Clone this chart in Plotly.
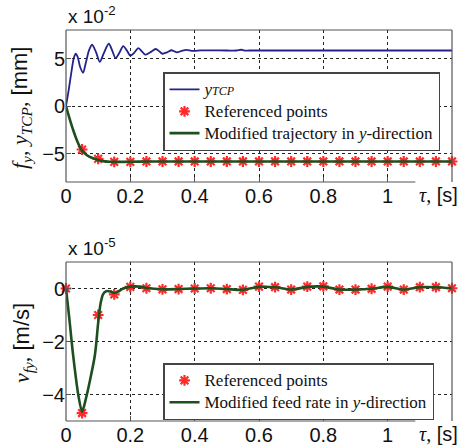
import plotly.graph_objects as go
from plotly.subplots import make_subplots

# ---- upper panel: tool-centre-point response and modified trajectory (x 1e-2 mm)
t_tcp = [0, 0.008, 0.016, 0.024, 0.03, 0.036, 0.044, 0.053, 0.062, 0.072, 0.081,
         0.093, 0.105, 0.118, 0.133, 0.144, 0.154, 0.166, 0.178, 0.19, 0.2, 0.212,
         0.225, 0.236, 0.246, 0.262, 0.279, 0.29, 0.3, 0.314, 0.328, 0.337, 0.345,
         0.36, 0.375, 0.39, 0.4, 0.42, 0.45, 0.5, 0.53, 0.545, 0.555, 0.57, 0.6,
         0.8, 1.0, 1.2]
y_tcp = [0, 1.6, 3.4, 5.0, 5.5, 5.2, 4.1, 3.5, 4.6, 5.9, 6.45,
         5.7, 4.65, 5.6, 6.55, 5.8, 5.05, 5.6, 6.3, 5.8, 5.3, 5.6,
         6.1, 5.75, 5.4, 5.65, 6.0, 5.75, 5.5, 5.65, 5.87, 5.75, 5.65,
         5.8, 5.9, 5.8, 5.8, 5.85, 5.85, 5.84, 5.84, 5.92, 5.84, 5.84, 5.84,
         5.84, 5.84, 5.84]

t_traj = [0, 0.01, 0.022, 0.035, 0.048, 0.064, 0.084, 0.1, 0.115, 0.135, 0.15,
          0.2, 0.25, 0.3, 0.6, 0.9, 1.2]
f_traj = [0, -1.2, -2.5, -3.7, -4.6, -5.15, -5.5, -5.68, -5.8, -5.87, -5.88,
          -5.87, -5.84, -5.84, -5.84, -5.84, -5.84]

t_ref_top = [0.05, 0.1, 0.15, 0.2, 0.25, 0.3, 0.35, 0.4, 0.45, 0.5, 0.55, 0.6,
             0.65, 0.7, 0.75, 0.8, 0.85, 0.9, 0.95, 1.0, 1.05, 1.1, 1.15, 1.2]
f_ref_top = [-4.58, -5.57, -5.88, -5.88, -5.84, -5.84, -5.84, -5.84, -5.84, -5.84,
             -5.84, -5.84, -5.84, -5.84, -5.84, -5.84, -5.84, -5.84, -5.84, -5.84,
             -5.84, -5.84, -5.84, -5.84]

# ---- lower panel: modified feed rate (x 1e-5 m/s)
t_feed = [0, 0.01, 0.022, 0.038, 0.05, 0.062, 0.074, 0.09, 0.1, 0.107, 0.115,
          0.125, 0.14, 0.15, 0.162, 0.176, 0.2, 0.23, 0.25, 0.3, 0.35, 0.4, 0.45,
          0.5, 0.55, 0.6, 0.65, 0.7, 0.75, 0.8, 0.85, 0.9, 0.95, 1.0, 1.05, 1.1,
          1.15, 1.2]
v_feed = [0, -1.1, -2.5, -4.0, -4.65, -4.15, -3.5, -2.5, -1.3, -0.6, -0.22,
          -0.1, -0.12, -0.17, -0.12, -0.01, 0.07, 0.07, 0.02, -0.03, -0.02, 0.0, 0.01,
          -0.02, -0.05, 0.06, 0.05, -0.04, 0.06, 0.07, -0.04, -0.04, -0.01, 0.06, -0.04, 0.05,
          0.05, 0.01]

t_ref_bot = [0, 0.05, 0.1, 0.15, 0.2, 0.25, 0.3, 0.35, 0.4, 0.45, 0.5, 0.55, 0.6,
             0.65, 0.7, 0.75, 0.8, 0.85, 0.9, 0.95, 1.0, 1.05, 1.1, 1.15, 1.2]
v_ref_bot = [0, -4.7, -1.0, -0.22, 0.06, 0.01, -0.03, -0.02, 0.0, 0.01, -0.02, -0.05,
             0.07, 0.05, -0.04, 0.07, 0.08, -0.04, -0.04, -0.01, 0.07, -0.04, 0.05,
             0.05, 0.01]

x_ticks = [0, 0.2, 0.4, 0.6, 0.8, 1]
x_tick_text = ["0", "0.2", "0.4", "0.6", "0.8", "1"]
y_ticks_top = [-5, 0, 5]
y_ticks_bot = [-4, -2, 0]

BLUE = "#23238c"
GREEN = "#1e4f1e"
RED = "#ff2a2a"
INK = "#111111"
SANS = "Liberation Sans, Arial, sans-serif"
SERIF = "Liberation Serif, Times New Roman, serif"

W, H = 467, 448
ML, MR, MT, MB = 66, 15, 30, 27
PW = W - ML - MR
PH = H - MT - MB


def entry(label):
    # legend entries drawn a little larger than the legend's base font
    return f"<span style='font-size:17px'>{label}</span>"


fig = make_subplots(rows=2, cols=1, vertical_spacing=0.0)

marker_style = dict(symbol="asterisk-open", size=9, color=RED,
                    line=dict(color=RED, width=2.2))

fig.add_trace(go.Scatter(x=t_tcp, y=y_tcp, mode="lines",
                         line=dict(color=BLUE, width=1.8, shape="spline", smoothing=0.8),
                         name=entry("<i>y</i>") + "<i><span style='font-size:12px'>TCP</span></i>",
                         legend="legend"),
              row=1, col=1)
fig.add_trace(go.Scatter(x=t_ref_top, y=f_ref_top, mode="markers", marker=marker_style,
                         cliponaxis=False, name=entry("Referenced points"), legend="legend"),
              row=1, col=1)
fig.add_trace(go.Scatter(x=t_traj, y=f_traj, mode="lines",
                         line=dict(color=GREEN, width=2.6, shape="spline", smoothing=0.8),
                         name=entry("Modified trajectory in <i>y</i>-direction"),
                         legend="legend"),
              row=1, col=1)

fig.add_trace(go.Scatter(x=t_ref_bot, y=v_ref_bot, mode="markers", marker=marker_style,
                         cliponaxis=False, name=entry("Referenced points"), legend="legend2"),
              row=2, col=1)
fig.add_trace(go.Scatter(x=t_feed, y=v_feed, mode="lines",
                         line=dict(color=GREEN, width=2.6, shape="spline", smoothing=0.8),
                         name=entry("Modified feed rate in <i>y</i>-direction"),
                         legend="legend2"),
              row=2, col=1)

# panel domains in paper fractions
top_dom = [(421 - 182) / PH, 1.0]
bot_dom = [0.0, (421 - 262) / PH]

axis_common = dict(showline=False, zeroline=False, showgrid=True, automargin=False,
                   gridcolor="#222222", griddash="dot", gridwidth=1,
                   ticks="inside", ticklen=5, tickcolor="#555555",
                   tickfont=dict(family=SANS, size=20, color=INK))

fig.update_xaxes(range=[0, 1.2], tickvals=x_ticks, ticktext=x_tick_text,
                 ticklabelstandoff=0, **axis_common)
fig.update_yaxes(**axis_common)
fig.update_yaxes(range=[-8, 8], tickvals=y_ticks_top, domain=top_dom, row=1, col=1)
fig.update_yaxes(range=[-5, 1], tickvals=y_ticks_bot, domain=bot_dom, row=2, col=1)
fig.update_xaxes(showticklabels=True, row=1, col=1)

# axes frames: left, top, right full; bottom stops short of the τ label
shapes = []
for xa, ya in (("x domain", "y domain"), ("x2 domain", "y2 domain")):
    frame = dict(type="line", xref=xa, yref=ya, line=dict(color="#555555", width=1.2))
    shapes.append({**frame, "x0": 0, "x1": 0, "y0": 0, "y1": 1})
    shapes.append({**frame, "x0": 0, "x1": 1, "y0": 1, "y1": 1})
    shapes.append({**frame, "x0": 1, "x1": 1, "y0": 0, "y1": 1})
    shapes.append({**frame, "x0": 0, "x1": 0.905, "y0": 0, "y1": 0})

annotations = [
    dict(text="x 10<sup>-2</sup>", xref="paper", yref="paper", x=0.0, y=1.0,
         xanchor="left", yanchor="bottom", yshift=1, showarrow=False,
         font=dict(family=SANS, size=19, color=INK)),
    dict(text="x 10<sup>-5</sup>", xref="paper", yref="paper", x=0.0, y=bot_dom[1],
         xanchor="left", yanchor="bottom", yshift=1, showarrow=False,
         font=dict(family=SANS, size=19, color=INK)),
    dict(text=f"<span style='font-family:{SERIF}'><i>f<sub>y</sub></i>, <i>y<sub>TCP</sub></i>,</span> [mm]",
         xref="paper", yref="paper", x=(21 - ML) / PW, y=(421 - 108) / PH,
         textangle=-90, showarrow=False, xanchor="center", yanchor="middle",
         font=dict(family=SANS, size=22, color=INK)),
    dict(text=f"<span style='font-family:{SERIF}'><i>v<sub>fy</sub></i>,</span> [m/s]",
         xref="paper", yref="paper", x=(23 - ML) / PW, y=(421 - 343) / PH,
         textangle=-90, showarrow=False, xanchor="center", yanchor="middle",
         font=dict(family=SANS, size=22, color=INK)),
]
for yl in (top_dom[0], bot_dom[0]):
    annotations.append(dict(
        text=f"<span style='font-family:{SERIF}'><i>τ</i>,</span> [s]",
        xref="paper", yref="paper", x=1.0, y=yl, xanchor="center", yanchor="top",
        xshift=-14, yshift=0, showarrow=False,
        font=dict(family=SANS, size=20, color=INK)))

legend_common = dict(bgcolor="white", bordercolor="#444444", borderwidth=1.5,
                     font=dict(family=SERIF, size=14.5, color=INK),
                     xanchor="left", yanchor="top", tracegroupgap=0, itemwidth=30)

fig.update_layout(
    template="none",
    width=W, height=H,
    margin=dict(l=ML, r=MR, t=MT, b=MB, autoexpand=False),
    paper_bgcolor="white", plot_bgcolor="white",
    showlegend=True,
    legend=dict(x=(163 - ML) / PW, y=(421 - 72) / PH, **legend_common),
    legend2=dict(x=(163 - ML) / PW, y=(421 - 363) / PH, **legend_common),
    shapes=shapes,
    annotations=annotations,
)

fig.write_html("out.html")
